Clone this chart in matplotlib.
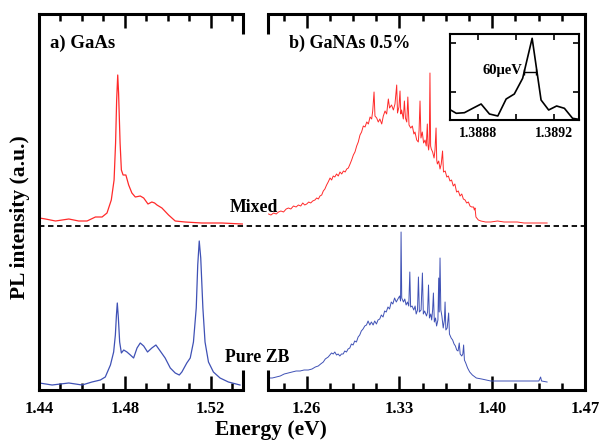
import matplotlib
matplotlib.use("Agg")
import matplotlib.pyplot as plt
from matplotlib.lines import Line2D
from matplotlib.ticker import MultipleLocator, FixedLocator

plt.rcParams['font.family'] = ['Liberation Serif', 'DejaVu Serif']
plt.rcParams['font.weight'] = 'bold'

# ---- data (energy in eV, intensity in arb. units) ----
# a) GaAs, mixed phase (red)
gaas_mixed_e = [1.4402, 1.4430, 1.4477, 1.4539, 1.4585, 1.4624, 1.4663, 1.4694, 1.4717,
                1.4737, 1.4750, 1.4757, 1.4762, 1.4767, 1.4771, 1.4778, 1.4784, 1.4792,
                1.4805, 1.4818, 1.4833, 1.4849, 1.4872, 1.4888, 1.4908, 1.4926, 1.4939,
                1.4950, 1.4973, 1.5004, 1.5035, 1.5081, 1.5159, 1.5252, 1.5348]
gaas_mixed_i = [172, 171, 169, 171, 169, 169, 173, 173, 177,
                190, 210, 247, 290, 315, 297, 247, 220, 215,
                215, 205, 197, 193, 194, 192, 186, 188, 187,
                185, 182, 175, 169, 168, 167, 167, 166]

# a) GaAs, pure zinc blende (blue)
gaas_zb_e = [1.4402, 1.4461, 1.4539, 1.4601, 1.4647, 1.4686, 1.4709, 1.4733, 1.4748,
             1.4756, 1.4761, 1.4765, 1.4770, 1.4776, 1.4784, 1.4795, 1.4810, 1.4826,
             1.4841, 1.4857, 1.4872, 1.4888, 1.4906, 1.4926, 1.4945, 1.4965, 1.4988,
             1.5012, 1.5035, 1.5054, 1.5066, 1.5089, 1.5105, 1.5120, 1.5133, 1.5140,
             1.5147, 1.5154, 1.5164, 1.5174, 1.5190, 1.5213, 1.5244, 1.5283, 1.5337]
gaas_zb_i = [7, 5, 7, 5, 8, 10, 13, 25, 38,
             55, 75, 87, 72, 48, 37, 40, 38, 35,
             32, 42, 47, 44, 38, 42, 45, 39, 32,
             22, 17, 15, 18, 27, 32, 48, 82, 125,
             149, 132, 82, 48, 28, 18, 12, 8, 5]

# b) GaNAs 0.5%, mixed phase (red)
ganas_mixed_e = [1.2312, 1.2330, 1.2350, 1.2370, 1.2387, 1.2405, 1.2425, 1.2445, 1.2462,
                 1.2480, 1.2500, 1.2520, 1.2537, 1.2555, 1.2570, 1.2585, 1.2600, 1.2615,
                 1.2630, 1.2645, 1.2662, 1.2675, 1.2688, 1.2700, 1.2713, 1.2725, 1.2737,
                 1.2750, 1.2762, 1.2776, 1.2788, 1.2800, 1.2812, 1.2825, 1.2838, 1.2851,
                 1.2864, 1.2877, 1.2890, 1.2902, 1.2914, 1.2927, 1.2939, 1.2952, 1.2964,
                 1.2977, 1.2989, 1.3002, 1.3014, 1.3027, 1.3040, 1.3053, 1.3065, 1.3078,
                 1.3090, 1.3098, 1.3108, 1.3115, 1.3128, 1.3140, 1.3152, 1.3166, 1.3178,
                 1.3191, 1.3203, 1.3216, 1.3225, 1.3240, 1.3254, 1.3266, 1.3279, 1.3285,
                 1.3296, 1.3304, 1.3310, 1.3316, 1.3329, 1.3337, 1.3345, 1.3355, 1.3363,
                 1.3372, 1.3385, 1.3397, 1.3409, 1.3417, 1.3430, 1.3442, 1.3448, 1.3455,
                 1.3462, 1.3472, 1.3482, 1.3493, 1.3502, 1.3510, 1.3515, 1.3520, 1.3525,
                 1.3530, 1.3535, 1.3540, 1.3550, 1.3561, 1.3568, 1.3576, 1.3581, 1.3586,
                 1.3596, 1.3606, 1.3615, 1.3625, 1.3632, 1.3645, 1.3657, 1.3669, 1.3681,
                 1.3693, 1.3706, 1.3718, 1.3731, 1.3744, 1.3757, 1.3770, 1.3782, 1.3795,
                 1.3807, 1.3820, 1.3832, 1.3845, 1.3859, 1.3865, 1.3870, 1.3877, 1.3895,
                 1.3914, 1.3950, 1.3989, 1.4040, 1.4089, 1.4140, 1.4189, 1.4240, 1.4290,
                 1.4350, 1.4414]
ganas_mixed_i = [176, 175, 177, 176, 178, 179, 178, 181, 182,
                 181, 184, 183, 185, 184, 187, 185, 186, 188,
                 187, 189, 190, 192, 191, 194, 195, 199, 201,
                 205, 208, 212, 210, 214, 213, 216, 214, 218,
                 216, 219, 218, 221, 222, 226, 230, 235, 238,
                 244, 248, 255, 258, 264, 263, 268, 266, 273,
                 271, 279, 298, 274, 272, 268, 271, 266, 274,
                 279, 276, 291, 282, 285, 280, 286, 305, 277,
                 283, 299, 276, 280, 271, 289, 272, 268, 293,
                 265, 262, 264, 256, 258, 250, 248, 260, 289,
                 252, 258, 247, 250, 244, 266, 245, 240, 247,
                 317, 244, 241, 238, 232, 240, 262, 230, 226,
                 229, 221, 226, 239, 218, 219, 213, 214, 209,
                 210, 204, 206, 198, 199, 194, 196, 191, 190,
                 187, 188, 184, 183, 183, 180, 182, 173, 170,
                 169, 168, 168, 169, 168, 168, 168, 167, 167,
                 167, 167]

# b) GaNAs 0.5%, pure zinc blende (blue)
ganas_zb_e = [1.2312, 1.2340, 1.2370, 1.2400, 1.2430, 1.2460, 1.2490, 1.2520, 1.2550,
              1.2580, 1.2612, 1.2640, 1.2665, 1.2687, 1.2705, 1.2725, 1.2740, 1.2762,
              1.2775, 1.2787, 1.2800, 1.2812, 1.2825, 1.2837, 1.2850, 1.2862, 1.2875,
              1.2887, 1.2900, 1.2912, 1.2925, 1.2937, 1.2950, 1.2962, 1.2975, 1.2988,
              1.3000, 1.3012, 1.3025, 1.3038, 1.3051, 1.3063, 1.3076, 1.3088, 1.3101,
              1.3113, 1.3126, 1.3138, 1.3151, 1.3163, 1.3176, 1.3188, 1.3200, 1.3213,
              1.3225, 1.3238, 1.3250, 1.3263, 1.3276, 1.3288, 1.3301, 1.3308, 1.3312,
              1.3317, 1.3330, 1.3340, 1.3350, 1.3360, 1.3370, 1.3378, 1.3384, 1.3395,
              1.3408, 1.3418, 1.3426, 1.3436, 1.3443, 1.3450, 1.3463, 1.3473, 1.3480,
              1.3490, 1.3504, 1.3512, 1.3519, 1.3526, 1.3536, 1.3543, 1.3550, 1.3556,
              1.3563, 1.3572, 1.3580, 1.3590, 1.3596, 1.3600, 1.3606, 1.3612, 1.3620,
              1.3630, 1.3639, 1.3644, 1.3650, 1.3660, 1.3671, 1.3677, 1.3690, 1.3701,
              1.3712, 1.3722, 1.3732, 1.3742, 1.3751, 1.3758, 1.3770, 1.3778, 1.3784,
              1.3790, 1.3800, 1.3814, 1.3830, 1.3850, 1.3880, 1.3920, 1.3989, 1.4080,
              1.4164, 1.4260, 1.4352, 1.4365, 1.4372, 1.4414]
ganas_zb_i = [12, 12, 13, 14, 16, 17, 18, 19, 19,
              20, 20, 21, 23, 24, 26, 28, 31, 33,
              35, 37, 36, 38, 35, 36, 34, 36, 36,
              39, 38, 41, 42, 46, 45, 49, 48, 53,
              55, 59, 61, 64, 65, 69, 65, 68, 65,
              69, 66, 70, 71, 75, 73, 79, 78, 83,
              81, 88, 86, 92, 88, 91, 94, 89, 158,
              92, 88, 91, 85, 88, 84, 118, 83, 84,
              80, 84, 76, 80, 113, 78, 80, 117, 76,
              79, 74, 78, 105, 72, 76, 70, 80, 97,
              68, 72, 64, 70, 112, 78, 132, 80, 74,
              62, 70, 88, 60, 62, 77, 56, 52, 50,
              46, 44, 40, 39, 47, 36, 34, 36, 45,
              30, 27, 22, 18, 15, 12, 11, 9, 9,
              9, 9, 9, 13, 9, 8]

# inset: single sharp line of the GaNAs spectrum
inset_e = [1.388647, 1.388683, 1.388726, 1.388770, 1.388814, 1.388858, 1.388902,
           1.388946, 1.388989, 1.389033, 1.389083, 1.389130, 1.389170, 1.389212,
           1.389253, 1.389296, 1.389328]
inset_i = [10.7, 6.7, 7.3, 11.7, 16, 6, 4, 21, 26, 41.7, 81.7, 20, 10, 14, 11.7, 1.7, 0.7]
fwhm_e = [1.389042, 1.389103]
fwhm_level = 48.3

red = '#ff2a2a'
blue = '#3f51b5'
W, H = 603, 441
fig = plt.figure(figsize=(W / 100, H / 100), dpi=100)

ax1 = fig.add_axes([39 / W, 1 - 390 / H, 204 / W, 376 / H])
ax2 = fig.add_axes([267.5 / W, 1 - 390 / H, 317.5 / W, 376 / H])
axin = fig.add_axes([450 / W, 1 - 120 / H, 129 / W, 86 / H])

ax1.plot(gaas_mixed_e, gaas_mixed_i, color=red, lw=0.9)
ax1.plot(gaas_zb_e, gaas_zb_i, color=blue, lw=0.9)
ax2.plot(ganas_mixed_e, ganas_mixed_i, color=red, lw=0.7)
ax2.plot(ganas_zb_e, ganas_zb_i, color=blue, lw=0.7)

ax1.set_xlim(1.44, 1.5351)
ax2.set_xlim(1.2304, 1.47)
for ax in (ax1, ax2):
    ax.set_ylim(0, 376)
    ax.set_yticks([])
    for s in ax.spines.values():
        s.set_linewidth(2.2)
    ax.tick_params(axis='x', which='both', direction='in', top=True, bottom=True,
                   width=1.8, labelsize=12, pad=8)
    ax.tick_params(axis='x', which='major', length=10)
    ax.tick_params(axis='x', which='minor', length=5)

ax1.xaxis.set_major_locator(FixedLocator([1.44, 1.48, 1.52]))
ax1.xaxis.set_minor_locator(FixedLocator([1.45, 1.46, 1.47, 1.49, 1.50, 1.51, 1.53]))
ax2.xaxis.set_major_locator(FixedLocator([1.26, 1.33, 1.40, 1.47]))
ax2.xaxis.set_minor_locator(MultipleLocator(0.0175))
ax1.set_xticklabels(['1.44', '1.48', '1.52'], fontweight='bold')
ax2.set_xticklabels(['1.26', '1.33', '1.40', '1.47'], fontweight='bold')

# broken-axis ends
ax1.spines['right'].set_visible(False)
ax2.spines['left'].set_visible(False)
stub = 20 / 376
for ax, xs in ((ax1, 1), (ax2, 0)):
    ax.plot([xs, xs], [1, 1 - stub], transform=ax.transAxes, color='k', lw=2.2,
            clip_on=False, solid_capstyle='butt')
    ax.plot([xs, xs], [0, stub], transform=ax.transAxes, color='k', lw=2.2,
            clip_on=False, solid_capstyle='butt')

# inset
axin.plot(inset_e, inset_i, color='k', lw=1.2)
axin.plot(fwhm_e, [fwhm_level, fwhm_level], color='k', lw=1, marker='|', ms=5, mew=1)
axin.text(fwhm_e[0] - 0.000012, fwhm_level + 1, '60\u03bceV', ha='right', va='center',
          fontsize=10.5, fontweight='bold')
axin.set_xlim(1.38865, 1.38933)
axin.set_ylim(0, 86)
axin.xaxis.set_major_locator(FixedLocator([1.3888, 1.3890, 1.3892]))
axin.set_xticklabels(['1.3888', '', '1.3892'], fontweight='bold')
axin.set_yticks([28, 77])
axin.set_yticklabels([])
axin.tick_params(direction='in', top=True, right=True, length=4, width=1.2,
                 labelsize=10, pad=5)
for s in axin.spines.values():
    s.set_linewidth(1.5)

# dashed separator across both panels
fig.add_artist(Line2D([39 / W, 585 / W], [1 - 226 / H, 1 - 226 / H], color='k',
                      lw=1.3, ls=(0, (3, 2))))

fig.text(50 / W, 1 - 43 / H, 'a) GaAs', fontsize=13.5, fontweight='bold',
         va='center', ha='left')
fig.text(289 / W, 1 - 43 / H, 'b) GaNAs 0.5%', fontsize=13, fontweight='bold',
         va='center', ha='left')
fig.text(230 / W, 1 - 207 / H, 'Mixed', fontsize=12.8, fontweight='bold', va='center')
fig.text(225 / W, 1 - 358 / H, 'Pure ZB', fontsize=12.8, fontweight='bold', va='center')
fig.text(20 / W, 1 - 217 / H, 'PL intensity (a.u.)', rotation=90, fontsize=15.5,
         fontweight='bold', va='center', ha='center')
fig.text(271 / W, 1 - 430 / H, 'Energy (eV)', fontsize=15.5, fontweight='bold',
         va='center', ha='center')

fig.savefig('out.png', dpi=100)
